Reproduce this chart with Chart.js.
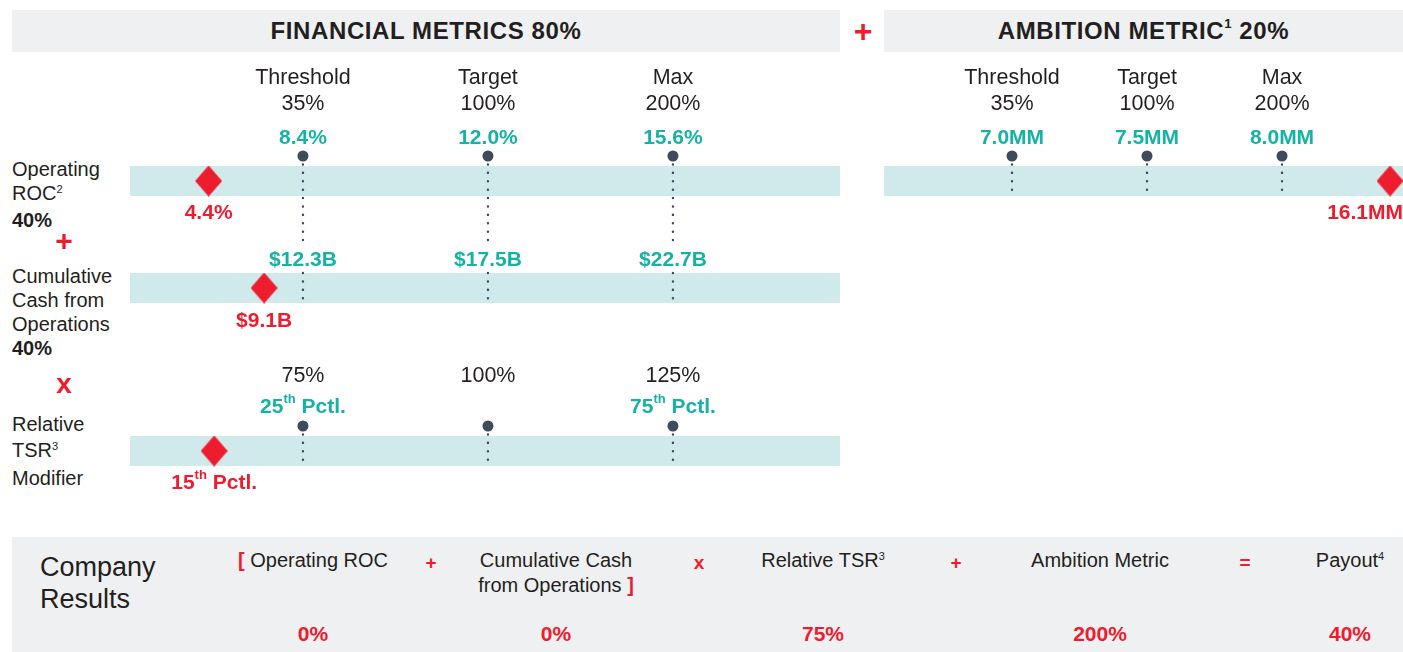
<!DOCTYPE html>
<html>
<head>
<meta charset="utf-8">
<script src="https://cdn.jsdelivr.net/npm/chart.js@4.4.1/dist/chart.umd.min.js"></script>
<style>
  body { margin:0; background:#fff; font-family:"Liberation Sans", Arial, sans-serif; color:#231f20; }
  #page { position:relative; width:1403px; height:652px; overflow:hidden; }
  .abs { position:absolute; }
  .hdr { position:absolute; background:#eff0f2; font-weight:bold; font-size:24px; letter-spacing:0.6px; display:flex; align-items:center; justify-content:center; }
  .hdr sup, .lbl sup, .term sup { font-size:55%; vertical-align:0; position:relative; top:-0.6em; }
  .op { position:absolute; color:#ed1c2e; font-weight:bold; transform:translate(-50%,-50%); }
  .lbl { position:absolute; left:12px; font-size:20px; line-height:24px; }
  canvas { position:absolute; }
  #results { position:absolute; left:12px; top:537px; width:1391px; height:115px; background:#eff0f2; }
  .term { position:absolute; font-size:20px; line-height:25px; text-align:center; transform:translateX(-50%); white-space:nowrap; }
  .val { position:absolute; font-size:21px; font-weight:bold; color:#ed1c2e; transform:translate(-50%,-50%); }
</style>
</head>
<body>
<div id="page">
  <div class="hdr" style="left:12px;top:10px;width:828px;height:42px;">FINANCIAL METRICS 80%</div>
  <div class="op" style="left:863px;top:31px;font-size:32px;">+</div>
  <div class="hdr" style="left:884px;top:10px;width:519px;height:42px;">AMBITION METRIC<sup>1</sup>&nbsp;20%</div>

  <div class="lbl" style="top:157px;">Operating<br>ROC<sup>2</sup><br><b>40%</b></div>
  <div class="op" style="left:64px;top:241px;font-size:30px;">+</div>
  <div class="lbl" style="top:264px;">Cumulative<br>Cash from<br>Operations<br><b>40%</b></div>
  <div class="op" style="left:64px;top:384px;font-size:28px;">x</div>
  <div class="lbl" style="top:412px;line-height:25.5px;">Relative<br>TSR<sup>3</sup><br>Modifier</div>

  <canvas id="roc" width="850" height="190" style="left:0;top:60px;"></canvas>
  <canvas id="cash" width="850" height="100" style="left:0;top:240px;"></canvas>
  <canvas id="tsr" width="850" height="150" style="left:0;top:350px;"></canvas>
  <canvas id="ambition" width="543" height="190" style="left:860px;top:60px;"></canvas>

  <div id="results"></div>
</div>
<script>
// goal levels shared by every metric
const levelNames = ['Threshold', 'Target', 'Max'];
const levelPayouts = ['35%', '100%', '200%'];
const levelPos = [0, 1, 2];

// Operating ROC
const rocGoals = ['8.4%', '12.0%', '15.6%'];
const rocActual = '4.4%';
const rocActualPos = -0.51;

// Cumulative cash from operations
const cashGoals = ['$12.3B', '$17.5B', '$22.7B'];
const cashActual = '$9.1B';
const cashActualPos = -0.21;

// Relative TSR modifier ("^" marks superscript)
const tsrModifiers = ['75%', '100%', '125%'];
const tsrGoals = ['25^th^ Pctl.', '', '75^th^ Pctl.'];
const tsrActual = '15^th^ Pctl.';
const tsrActualPos = -0.48;

// Ambition metric
const ambitionGoals = ['7.0MM', '7.5MM', '8.0MM'];
const ambitionActual = '16.1MM';
const ambitionActualPos = 2.8;

// company results
const resultTerms = ['Operating ROC', 'Cumulative Cash<br>from Operations', 'Relative TSR<sup>3</sup>', 'Ambition Metric', 'Payout<sup>4</sup>'];
const resultOps = ['+', 'x', '+', '='];
const resultValues = ['0%', '0%', '75%', '200%', '40%'];

const RED = '#ed1c2e', TEAL = '#17b1a6', DOT = '#3e4b5b', BAND = '#d0e9eb', INK = '#231f20';
const FONT = '"Liberation Sans", Arial, sans-serif';

// diamond marker
const diamond = document.createElement('canvas');
diamond.width = 27; diamond.height = 31;
(function () {
  const c = diamond.getContext('2d');
  c.fillStyle = RED;
  c.beginPath();
  c.moveTo(13.5, 0); c.lineTo(27, 15.5); c.lineTo(13.5, 31); c.lineTo(0, 15.5);
  c.closePath(); c.fill();
})();

function drawRich(ctx, str, px, py, size, weight, color, align) {
  const parts = str.split('^');
  const fontFor = i => `${weight} ${i % 2 ? Math.round(size * 0.6) : size}px ${FONT}`;
  let w = 0;
  parts.forEach((p, i) => { ctx.font = fontFor(i); w += ctx.measureText(p).width; });
  let cx = align === 'center' ? px - w / 2 : align === 'right' ? px - w : px;
  ctx.fillStyle = color;
  ctx.textBaseline = 'middle';
  ctx.textAlign = 'left';
  parts.forEach((p, i) => {
    ctx.font = fontFor(i);
    ctx.fillText(p, cx, i % 2 ? py - size * 0.35 : py);
    cx += ctx.measureText(p).width;
  });
}

const rowText = {
  id: 'rowText',
  afterDatasetsDraw(chart, args, opts) {
    const { ctx, chartArea, scales: { x, y } } = chart;
    ctx.save();
    (opts.texts || []).forEach(t => {
      let px = x.getPixelForValue(t.x);
      if (t.align === 'right') px = Math.min(px + 14, chartArea.right);
      drawRich(ctx, t.text, px, y.getPixelForValue(t.y), t.size, t.weight, t.color, t.align || 'center');
    });
    ctx.restore();
  }
};

function rowChart(id, o) {
  const texts = [];
  (o.headers || []).forEach((line, li) => {
    line.forEach((txt, i) => texts.push({ text: txt, x: levelPos[i], y: o.headerY[li], size: 21.5, weight: 'normal', color: INK }));
  });
  o.goals.forEach((txt, i) => texts.push({ text: txt, x: levelPos[i], y: o.goalY, size: 21, weight: 'bold', color: TEAL }));
  texts.push({ text: o.actual, x: o.actualPos, y: o.actualY, size: 21, weight: 'bold', color: RED, align: o.actualAlign });

  const datasets = [
    { data: [{ x: o.xmin, y: 0 }, { x: o.xmax, y: 0 }], showLine: true, borderColor: BAND, borderWidth: 30,
      borderCapStyle: 'butt', pointRadius: 0, order: 4 }
  ];
  levelPos.forEach(p => datasets.push({
    data: [{ x: p, y: o.guideTop }, { x: p, y: o.guideBottom }], showLine: true, borderColor: DOT, borderWidth: 2.4,
    borderDash: [0.1, 8.3], borderCapStyle: 'round', pointRadius: 0, order: 3
  }));
  if (o.dots) datasets.push({
    data: levelPos.map(p => ({ x: p, y: o.guideTop })), pointRadius: 5.5, backgroundColor: DOT, borderWidth: 0, order: 2
  });
  datasets.push({ data: [{ x: o.actualPos, y: 0 }], pointStyle: diamond, pointRadius: 14, order: 1 });

  return new Chart(document.getElementById(id), {
    type: 'scatter',
    data: { datasets },
    options: {
      responsive: false,
      animation: false,
      events: [],
      clip: false,
      layout: { autoPadding: false, padding: { left: o.padL, right: o.padR, top: 0, bottom: 0 } },
      scales: {
        x: { type: 'linear', min: o.xmin, max: o.xmax, display: false },
        y: { type: 'linear', min: o.ymin, max: o.ymax, display: false }
      },
      plugins: { legend: { display: false }, tooltip: { enabled: false }, rowText: { texts } }
    },
    plugins: [rowText]
  });
}

rowChart('roc', {
  padL: 130, padR: 10, xmin: -0.935, xmax: 2.903, ymin: -69, ymax: 121,
  headers: [levelNames, levelPayouts], headerY: [103, 77],
  goals: rocGoals, goalY: 43, dots: true, guideTop: 25, guideBottom: -62,
  actual: rocActual, actualPos: rocActualPos, actualY: -32
});
rowChart('cash', {
  padL: 130, padR: 10, xmin: -0.935, xmax: 2.903, ymin: -52, ymax: 48,
  goals: cashGoals, goalY: 28, dots: false, guideTop: 15, guideBottom: -14,
  actual: cashActual, actualPos: cashActualPos, actualY: -33
});
rowChart('tsr', {
  padL: 130, padR: 10, xmin: -0.935, xmax: 2.903, ymin: -49, ymax: 101,
  headers: [tsrModifiers], headerY: [75],
  goals: tsrGoals, goalY: 44, dots: true, guideTop: 25, guideBottom: -15,
  actual: tsrActual, actualPos: tsrActualPos, actualY: -32
});
rowChart('ambition', {
  padL: 24, padR: 0, xmin: -0.948, xmax: 2.896, ymin: -69, ymax: 121,
  headers: [levelNames, levelPayouts], headerY: [103, 77],
  goals: ambitionGoals, goalY: 43, dots: true, guideTop: 25, guideBottom: -15,
  actual: ambitionActual, actualPos: ambitionActualPos, actualY: -32, actualAlign: 'right'
});

// company results box
const box = document.getElementById('results');
const termX = [301, 544, 811, 1088, 1338];
const opX = [419, 687, 944, 1233];
box.insertAdjacentHTML('beforeend',
  '<div class="abs" style="left:28px;top:14px;font-size:27px;line-height:32px;">Company<br>Results</div>');
resultTerms.forEach((t, i) => {
  let html = t;
  if (i === 0) html = '<b style="color:' + RED + '">[</b> ' + t;
  if (i === 1) html = t + ' <b style="color:' + RED + '">]</b>';
  box.insertAdjacentHTML('beforeend', `<div class="term" style="left:${termX[i]}px;top:11px;">${html}</div>`);
  box.insertAdjacentHTML('beforeend', `<div class="val" style="left:${termX[i]}px;top:97px;">${resultValues[i]}</div>`);
});
resultOps.forEach((op, i) => {
  box.insertAdjacentHTML('beforeend', `<div class="op" style="left:${opX[i]}px;top:26px;font-size:19px;">${op}</div>`);
});
</script>
</body>
</html>
